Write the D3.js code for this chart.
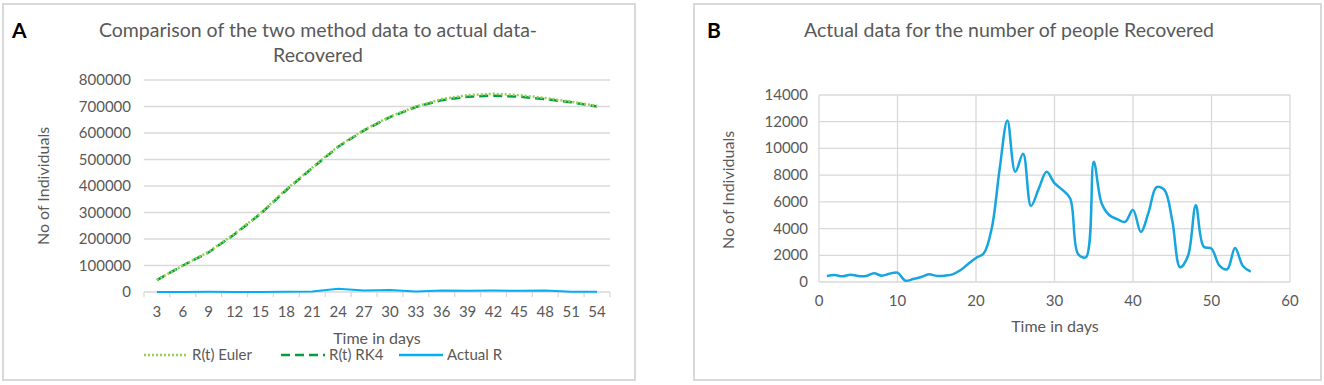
<!DOCTYPE html>
<html>
<head>
  <title>Recovered - Euler, RK4 and actual data</title>
  <script src="https://d3js.org/d3.v7.min.js"></script>
  <style>
    body { margin: 0; background: #fff; }
    text { font-family: Lato, "Open Sans", sans-serif; fill: #595959; }
  </style>
</head>
<body>
  <svg id="chart" width="1324" height="385"></svg>

  <script>
    // Panel A data (every 3rd day)
    var daysA = [3, 6, 9, 12, 15, 18, 21, 24, 27, 30, 33, 36, 39, 42, 45, 48, 51, 54];
    var eulerR = [45000, 100000, 152000, 220000, 297000, 388000, 470000, 550000, 612000,
                  662000, 700000, 728000, 743000, 748000, 743000, 732000, 718000, 702000];
    var rk4R = [45000, 100000, 150000, 218000, 295000, 385000, 468000, 548000, 610000,
                660000, 698000, 724000, 737000, 741000, 737000, 728000, 716000, 700000];
    var actualA = [425, 450, 625, 225, 450, 875, 2000, 12100, 5700, 7400, 2100, 5900,
                   4500, 5250, 4600, 5750, 1250, 1200];

    // Panel B data (daily)
    var daysB = d3.range(1, 56);
    var actualB = [450, 520, 425, 550, 450, 450, 650, 475, 625, 700,
                   100, 225, 375, 575, 450, 475, 575, 875, 1350, 1800,
                   2150, 4000, 8400, 12100, 8250, 9600, 5700, 7000, 8250, 7400,
                   6900, 6250, 2100, 1850, 9000, 5900, 5000, 4700, 4500, 5400,
                   3750, 5250, 7100, 6900, 4600, 1100, 1950, 5750, 2650, 2500,
                   1250, 950, 2550, 1200, 780];

    var yTicksA = [0, 100000, 200000, 300000, 400000, 500000, 600000, 700000, 800000];
    var yTicksB = [0, 2000, 4000, 6000, 8000, 10000, 12000, 14000];
    var xTicksB = [0, 10, 20, 30, 40, 50, 60];

    var grid = "#d9d9d9";
    var svg = d3.select("#chart");

    // Panel frames
    svg.append("rect").attr("x", 3).attr("y", 4).attr("width", 632).attr("height", 376)
      .attr("fill", "none").attr("stroke", grid).attr("stroke-width", 2);
    svg.append("rect").attr("x", 694).attr("y", 4).attr("width", 627).attr("height", 376)
      .attr("fill", "none").attr("stroke", grid).attr("stroke-width", 2);

    // ---------- Panel A ----------
    var xA = d3.scaleBand().domain(daysA).range([144, 610]);
    var yA = d3.scaleLinear().domain([0, 800000]).range([292, 80]);

    svg.append("text").attr("x", 12).attr("y", 38).text("A")
      .attr("font-size", "21px").attr("font-weight", "bold").style("fill", "#000");
    svg.append("text").attr("x", 318).attr("y", 37).attr("text-anchor", "middle")
      .attr("font-size", "19.5px").text("Comparison of the two method data to actual data-");
    svg.append("text").attr("x", 318).attr("y", 62).attr("text-anchor", "middle")
      .attr("font-size", "19.5px").text("Recovered");

    // gridlines
    svg.append("g").selectAll("line").data(yTicksA.slice(1)).enter().append("line")
      .attr("x1", 144).attr("x2", 610)
      .attr("y1", function(d) { return yA(d); }).attr("y2", function(d) { return yA(d); })
      .attr("stroke", grid).attr("stroke-width", 1.3);

    // y tick labels
    svg.append("g").selectAll("text").data(yTicksA).enter().append("text")
      .attr("x", 131).attr("y", function(d) { return yA(d) + 5; })
      .attr("text-anchor", "end").attr("font-size", "15px")
      .text(function(d) { return d; });

    // x axis: category ticks between bands
    var xAxisA = svg.append("g").attr("transform", "translate(0,292)");
    xAxisA.append("line").attr("x1", 144).attr("x2", 610).attr("stroke", grid).attr("stroke-width", 1.3);
    var bounds = daysA.map(function(d) { return xA(d); }).concat([610]);
    xAxisA.selectAll("line.tick").data(bounds).enter().append("line").attr("class", "tick")
      .attr("x1", function(d) { return d; }).attr("x2", function(d) { return d; })
      .attr("y1", 0).attr("y2", 5).attr("stroke", grid).attr("stroke-width", 1.3);
    xAxisA.selectAll("text").data(daysA).enter().append("text")
      .attr("x", function(d) { return xA(d) + xA.bandwidth() / 2; })
      .attr("y", 25).attr("text-anchor", "middle").attr("font-size", "15px")
      .text(function(d) { return d; });

    svg.append("text").attr("x", 377).attr("y", 344).attr("text-anchor", "middle")
      .attr("font-size", "16px").text("Time in days");
    svg.append("text").attr("transform", "translate(49,186) rotate(-90)")
      .attr("text-anchor", "middle").attr("font-size", "16px").text("No of Individuals");

    var lineA = d3.line()
      .x(function(d) { return xA(d[0]) + xA.bandwidth() / 2; })
      .y(function(d) { return yA(d[1]); });

    svg.append("path").datum(d3.zip(daysA, actualA)).attr("d", lineA)
      .attr("fill", "none").attr("stroke", "#00B0F0").attr("stroke-width", 2);
    svg.append("path").datum(d3.zip(daysA, rk4R)).attr("d", lineA)
      .attr("fill", "none").attr("stroke", "#00A03C").attr("stroke-width", 2.5)
      .attr("stroke-dasharray", "9,5");
    svg.append("path").datum(d3.zip(daysA, eulerR)).attr("d", lineA)
      .attr("fill", "none").attr("stroke", "#92D050").attr("stroke-width", 2.5)
      .attr("stroke-dasharray", "2,2");

    // legend
    var legend = [
      { name: "R(t) Euler", color: "#92D050", dash: "2,2", x: 144 },
      { name: "R(t) RK4", color: "#00A03C", dash: "9,5", x: 281 },
      { name: "Actual R", color: "#00B0F0", dash: null, x: 399 }
    ];
    legend.forEach(function(l) {
      svg.append("line").attr("x1", l.x).attr("x2", l.x + 44).attr("y1", 355).attr("y2", 355)
        .attr("stroke", l.color).attr("stroke-width", 2.5)
        .attr("stroke-dasharray", l.dash);
      svg.append("text").attr("x", l.x + 48).attr("y", 360).attr("font-size", "15px").text(l.name);
    });

    // ---------- Panel B ----------
    var xB = d3.scaleLinear().domain([0, 60]).range([819, 1290]);
    var yB = d3.scaleLinear().domain([0, 14000]).range([282, 95]);

    svg.append("text").attr("x", 707).attr("y", 38).text("B")
      .attr("font-size", "21px").attr("font-weight", "bold").style("fill", "#000");
    svg.append("text").attr("x", 1009).attr("y", 37).attr("text-anchor", "middle")
      .attr("font-size", "19.5px").text("Actual data for the number of people Recovered");

    svg.append("g").selectAll("line").data(yTicksB).enter().append("line")
      .attr("x1", 819).attr("x2", 1290)
      .attr("y1", function(d) { return yB(d); }).attr("y2", function(d) { return yB(d); })
      .attr("stroke", grid).attr("stroke-width", 1.3);
    svg.append("g").selectAll("line").data(xTicksB).enter().append("line")
      .attr("y1", 95).attr("y2", 282)
      .attr("x1", function(d) { return xB(d); }).attr("x2", function(d) { return xB(d); })
      .attr("stroke", grid).attr("stroke-width", 1.3);

    svg.append("g").selectAll("text").data(yTicksB).enter().append("text")
      .attr("x", 808).attr("y", function(d) { return yB(d) + 5; })
      .attr("text-anchor", "end").attr("font-size", "15px")
      .text(function(d) { return d; });
    svg.append("g").selectAll("text").data(xTicksB).enter().append("text")
      .attr("x", function(d) { return xB(d); }).attr("y", 306)
      .attr("text-anchor", "middle").attr("font-size", "15px")
      .text(function(d) { return d; });

    svg.append("text").attr("x", 1055).attr("y", 332).attr("text-anchor", "middle")
      .attr("font-size", "16px").text("Time in days");
    svg.append("text").attr("transform", "translate(734,190) rotate(-90)")
      .attr("text-anchor", "middle").attr("font-size", "16px").text("No of Individuals");

    var lineB = d3.line()
      .curve(d3.curveCatmullRom.alpha(0.5))
      .x(function(d) { return xB(d[0]); })
      .y(function(d) { return yB(d[1]); });
    svg.append("path").datum(d3.zip(daysB, actualB)).attr("d", lineB)
      .attr("fill", "none").attr("stroke", "#16A5DF").attr("stroke-width", 2.5);
  </script>
</body>
</html>
